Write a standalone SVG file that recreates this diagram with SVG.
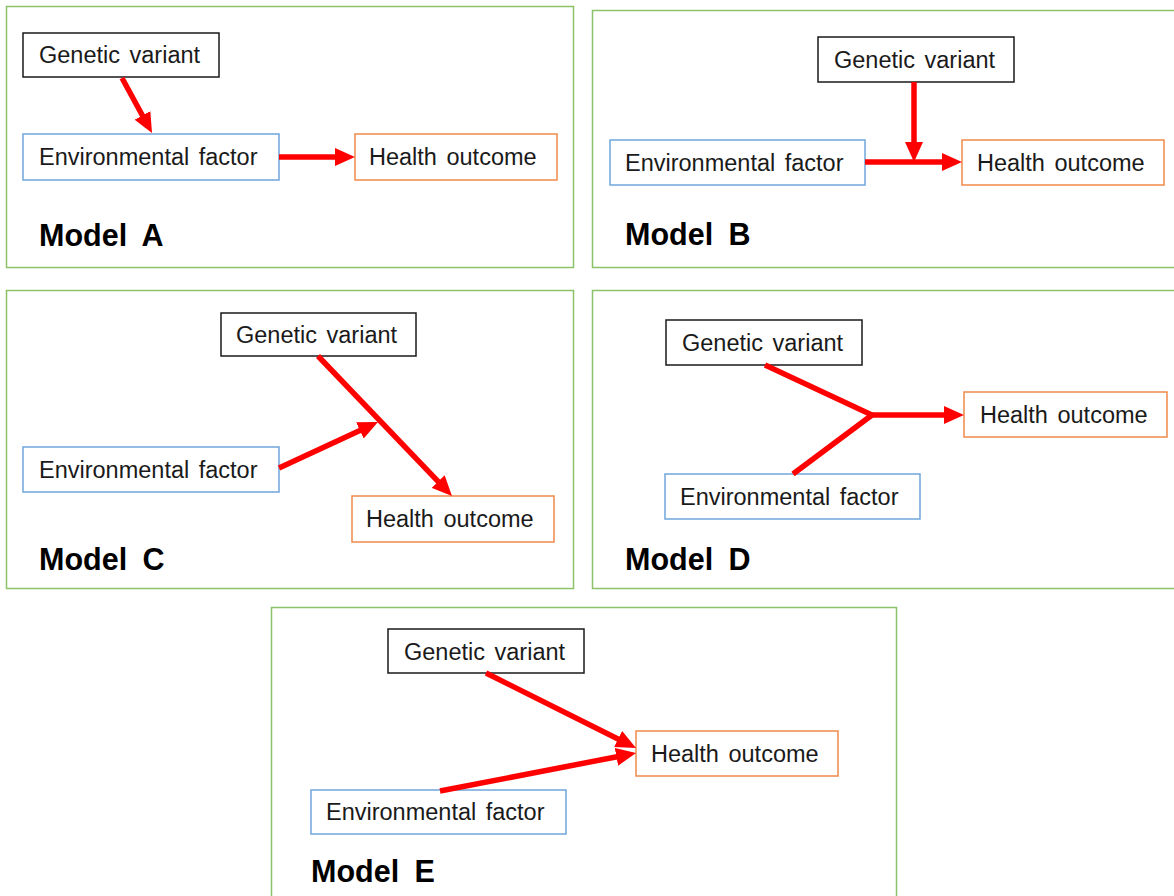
<svg xmlns="http://www.w3.org/2000/svg" width="1174" height="896" viewBox="0 0 1174 896">
  <style>
    .panel { fill: #ffffff; stroke: #8cc26a; stroke-width: 1.5; }
    .gene { fill: #ffffff; stroke: #1a1a1a; stroke-width: 1.5; }
    .env { fill: #ffffff; stroke: #6fa6dc; stroke-width: 1.5; }
    .out { fill: #ffffff; stroke: #f0894a; stroke-width: 1.5; }
    .lbl { font-family: "Liberation Sans", Arial, sans-serif; font-size: 23.5px; fill: #1a1a1a; word-spacing: 3px; }
    .title { font-family: "Liberation Sans", Arial, sans-serif; font-size: 30.5px; font-weight: bold; fill: #000000; word-spacing: 7px; }
    .link { stroke: #ff0000; stroke-width: 5.5; fill: none; }
  </style>
  <defs>
    <marker id="head" viewBox="0 0 20 18" refX="6" refY="9" markerWidth="20" markerHeight="18" markerUnits="userSpaceOnUse" orient="auto">
      <path d="M0,0 L20,9 L0,18 z" fill="#ff0000"/>
    </marker>
  </defs>
  <rect width="1174" height="896" fill="#ffffff"/>

  <!-- panels -->
  <g id="panels">
    <rect class="panel" x="6.5" y="6.5" width="567" height="261"/>
    <rect class="panel" x="592.5" y="10.5" width="590" height="257"/>
    <rect class="panel" x="6.5" y="290.5" width="567" height="298"/>
    <rect class="panel" x="592.5" y="290.5" width="590" height="298"/>
    <rect class="panel" x="271.5" y="607.5" width="625" height="300"/>
  </g>

  <!-- Model A -->
  <g id="a-gene"><rect class="gene" x="23" y="33" width="196" height="44"/><text class="lbl" x="39" y="63">Genetic variant</text></g>
  <g id="a-env"><rect class="env" x="23" y="134" width="256" height="46"/><text class="lbl" x="39" y="165">Environmental factor</text></g>
  <g id="a-out"><rect class="out" x="355" y="134" width="202" height="46"/><text class="lbl" x="369" y="165">Health outcome</text></g>
  <g id="a-title"><text class="title" x="39" y="246">Model A</text></g>

  <!-- Model B -->
  <g id="b-gene"><rect class="gene" x="818" y="37" width="196" height="45"/><text class="lbl" x="834" y="68">Genetic variant</text></g>
  <g id="b-env"><rect class="env" x="610" y="140" width="255" height="45"/><text class="lbl" x="625" y="171">Environmental factor</text></g>
  <g id="b-out"><rect class="out" x="962" y="140" width="202" height="45"/><text class="lbl" x="977" y="171">Health outcome</text></g>
  <g id="b-title"><text class="title" x="625" y="245">Model B</text></g>

  <!-- Model C -->
  <g id="c-gene"><rect class="gene" x="221" y="313" width="195" height="43"/><text class="lbl" x="236" y="343">Genetic variant</text></g>
  <g id="c-env"><rect class="env" x="23" y="447" width="256" height="45"/><text class="lbl" x="39" y="478">Environmental factor</text></g>
  <g id="c-out"><rect class="out" x="352" y="496" width="202" height="46"/><text class="lbl" x="366" y="527">Health outcome</text></g>
  <g id="c-title"><text class="title" x="39" y="570">Model C</text></g>

  <!-- Model D -->
  <g id="d-gene"><rect class="gene" x="666" y="320" width="196" height="45"/><text class="lbl" x="682" y="351">Genetic variant</text></g>
  <g id="d-out"><rect class="out" x="964" y="392" width="203" height="45"/><text class="lbl" x="980" y="423">Health outcome</text></g>
  <g id="d-env"><rect class="env" x="665" y="474" width="255" height="45"/><text class="lbl" x="680" y="505">Environmental factor</text></g>
  <g id="d-title"><text class="title" x="625" y="570">Model D</text></g>

  <!-- Model E -->
  <g id="e-gene"><rect class="gene" x="388" y="629" width="196" height="44"/><text class="lbl" x="404" y="660">Genetic variant</text></g>
  <g id="e-out"><rect class="out" x="636" y="731" width="202" height="45"/><text class="lbl" x="651" y="762">Health outcome</text></g>
  <g id="e-env"><rect class="env" x="311" y="790" width="255" height="44"/><text class="lbl" x="326" y="820">Environmental factor</text></g>
  <g id="e-title"><text class="title" x="311" y="882">Model E</text></g>

  <!-- connectors -->
  <g id="connectors">
    <line class="link" x1="122" y1="78" x2="145.3" y2="120.7" marker-end="url(#head)"/>
    <line class="link" x1="279" y1="157" x2="341" y2="157" marker-end="url(#head)"/>

    <line class="link" x1="914" y1="82" x2="914" y2="148" marker-end="url(#head)"/>
    <line class="link" x1="865" y1="162" x2="948" y2="162" marker-end="url(#head)"/>

    <line class="link" x1="318" y1="356" x2="442.3" y2="485.9" marker-end="url(#head)"/>
    <line class="link" x1="279" y1="468" x2="365.3" y2="427.9" marker-end="url(#head)"/>

    <polyline class="link" points="765,365 872,415 793,474" stroke-linejoin="miter"/>
    <line class="link" x1="870" y1="415" x2="950" y2="415" marker-end="url(#head)"/>

    <line class="link" x1="486" y1="673" x2="623.5" y2="741.7" marker-end="url(#head)"/>
    <line class="link" x1="440" y1="791" x2="622.3" y2="755.7" marker-end="url(#head)"/>
  </g>
</svg>
